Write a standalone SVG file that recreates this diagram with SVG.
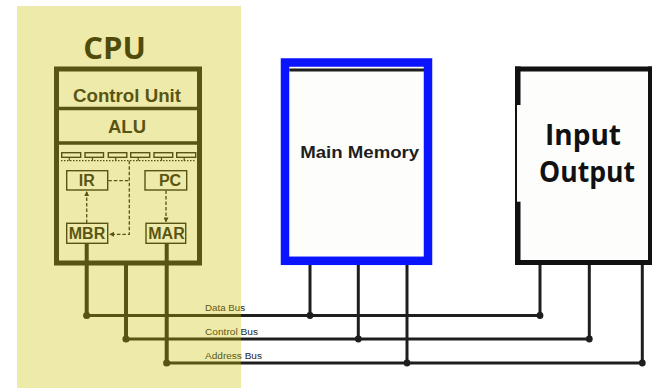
<svg xmlns="http://www.w3.org/2000/svg" width="652" height="388" viewBox="0 0 652 388">
<defs>
<style>
.dk{stroke:#1e1e1e;fill:none}
.bus{stroke:#1e1e1e;stroke-width:3;fill:none}
.dot{fill:#1e1e1e}
.reg{fill:none;stroke:#1e1e1e;stroke-width:1.4}
.dash{stroke:#1e1e1e;stroke-width:1.3;stroke-dasharray:3.5 2;fill:none}
.t{font-family:"Liberation Sans",Arial,sans-serif;font-weight:bold;fill:#1e1e1e;text-anchor:middle}
.big{font-family:"Open Sans","Liberation Sans",sans-serif;font-weight:bold;fill:#111;text-anchor:middle}
.lbl{font-family:"Liberation Sans",Arial,sans-serif;font-size:8.5px;fill:#1e1e1e}
</style>
<marker id="ah" viewBox="0 0 6 6" refX="5.5" refY="3" markerWidth="5" markerHeight="5" markerUnits="userSpaceOnUse" orient="auto">
<path d="M0,0 L6,3 L0,6 Z" fill="#1e1e1e"/>
</marker>
</defs>
<rect width="652" height="388" fill="#ffffff"/>

<g id="connectors">
<line class="dk" x1="86.7" y1="243" x2="86.7" y2="315.5" stroke-width="4"/>
<line class="dk" x1="126" y1="263" x2="126" y2="339" stroke-width="4"/>
<line class="dk" x1="166.7" y1="243" x2="166.7" y2="363" stroke-width="4"/>
<line class="bus" x1="86.7" y1="315.5" x2="540" y2="315.5"/>
<line class="bus" x1="126" y1="339" x2="589.3" y2="339"/>
<line class="bus" x1="166.7" y1="363" x2="642.3" y2="363"/>
<line class="bus" x1="310" y1="265" x2="310" y2="315.5"/>
<line class="bus" x1="358.3" y1="265" x2="358.3" y2="339"/>
<line class="bus" x1="407" y1="265" x2="407" y2="363"/>
<line class="bus" x1="540" y1="265" x2="540" y2="315.5"/>
<line class="bus" x1="589.3" y1="265" x2="589.3" y2="339"/>
<line class="bus" x1="642.3" y1="265" x2="642.3" y2="363"/>
<circle class="dot" cx="86.7" cy="315.5" r="3.6"/>
<circle class="dot" cx="126" cy="339" r="3.6"/>
<circle class="dot" cx="166.7" cy="363" r="3.6"/>
<circle class="dot" cx="310" cy="315.5" r="3.4"/>
<circle class="dot" cx="358.3" cy="339" r="3.4"/>
<circle class="dot" cx="407" cy="363" r="3.4"/>
<circle class="dot" cx="540" cy="315.5" r="3.4"/>
<circle class="dot" cx="589.3" cy="339" r="3.4"/>
<circle class="dot" cx="642.3" cy="363" r="3.4"/>
<text class="lbl" x="205" y="311" textLength="40" lengthAdjust="spacingAndGlyphs">Data Bus</text>
<text class="lbl" x="205" y="335" textLength="53" lengthAdjust="spacingAndGlyphs">Control Bus</text>
<text class="lbl" x="205" y="359" textLength="57" lengthAdjust="spacingAndGlyphs">Address Bus</text>
</g>

<g id="cpu">
<text class="big" x="114.5" y="58.5" font-size="31">CPU</text>
<rect class="dk" x="56.5" y="69" width="143" height="194" stroke-width="5"/>
<line class="dk" x1="59" y1="108.5" x2="197" y2="108.5" stroke-width="3.4"/>
<line class="dk" x1="59" y1="143" x2="197" y2="143" stroke-width="3.4"/>
<text class="t" x="127" y="101.7" font-size="18.5" textLength="108" lengthAdjust="spacingAndGlyphs">Control Unit</text>
<text class="t" x="127" y="132.5" font-size="18.5">ALU</text>
</g>

<g id="registers">
<rect class="reg" x="61.7" y="152.7" width="19" height="4.6"/>
<rect class="reg" x="85" y="152.7" width="18.5" height="4.6"/>
<rect class="reg" x="108.3" y="152.7" width="18.5" height="4.6"/>
<rect class="reg" x="130.7" y="152.7" width="19" height="4.6"/>
<rect class="reg" x="154" y="152.7" width="18.7" height="4.6"/>
<rect class="reg" x="176.7" y="152.7" width="19" height="4.6"/>
<path class="dk" stroke-width="1.2" d="M69.3,157.3V160.7M92.5,157.3V160.7M115.8,157.3V160.7M138.2,157.3V160.7M161.5,157.3V160.7M184.2,157.3V160.7"/>
<line class="dk" x1="61" y1="160.7" x2="196" y2="160.7" stroke-width="1.2" stroke-dasharray="1.5 1.5"/>
</g>

<g id="ir">
<rect class="reg" x="66.7" y="170.7" width="41" height="19.3"/>
<text class="t" x="86.7" y="186" font-size="16">IR</text>
</g>
<g id="pc">
<rect class="reg" x="145" y="170.7" width="41.7" height="19.3"/>
<text class="t" x="170" y="186" font-size="16">PC</text>
</g>
<g id="mbr">
<rect class="reg" x="66.7" y="223.3" width="41" height="20"/>
<text class="t" x="87" y="239.3" font-size="16">MBR</text>
</g>
<g id="mar">
<rect class="reg" x="146" y="223.3" width="39.7" height="20"/>
<text class="t" x="166.5" y="239.3" font-size="16">MAR</text>
</g>

<g id="cpu-links">
<path class="dash" d="M129.3,160.7V234.3H109.5" marker-end="url(#ah)"/>
<path class="dash" d="M108.3,180.7H129.3"/>
<path class="dash" d="M86.7,223H86.7V191.5" marker-end="url(#ah)"/>
<path class="dash" d="M166,190.5V222" marker-end="url(#ah)"/>
</g>

<g id="main-memory">
<rect x="285" y="62.5" width="143" height="198.3" fill="#fdfdfb" stroke="#0a14ff" stroke-width="8.5"/>
<line x1="289.3" y1="70" x2="424" y2="70" stroke="#1e1e1e" stroke-width="3"/>
<text class="t" x="359.7" y="158.3" font-size="16.5" fill="#222" textLength="119" lengthAdjust="spacingAndGlyphs">Main Memory</text>
</g>

<g id="input-output">
<rect x="517" y="69" width="135" height="193" fill="#fdfdfb"/>
<g fill="#111">
<rect x="515" y="66.5" width="137" height="5"/>
<rect x="515" y="260" width="137" height="5"/>
<rect x="648" y="66.5" width="5" height="198.5"/>
<rect x="515" y="66.5" width="5.5" height="38.5"/>
<rect x="515" y="105" width="2" height="97"/>
<rect x="515" y="201.7" width="5.5" height="63.3"/>
</g>
<text class="big" x="583" y="145" font-size="28">Input</text>
<text class="big" x="587" y="181.7" font-size="28" textLength="96" lengthAdjust="spacingAndGlyphs">Output</text>
</g>

<rect id="cpu-highlight" x="17" y="6" width="224" height="382" fill="#ccc000" opacity="0.333"/>
</svg>
